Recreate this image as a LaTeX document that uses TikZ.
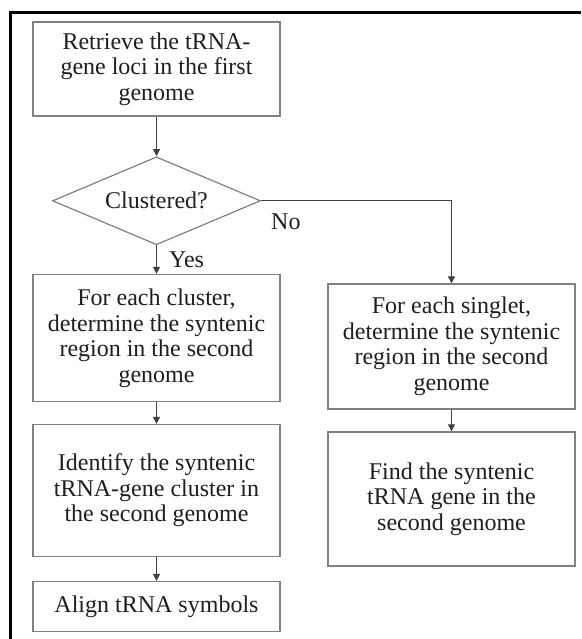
\documentclass[tikz,border=0pt]{standalone}
\usepackage{fontspec}
\setmainfont{Liberation Serif}
\usetikzlibrary{arrows.meta,positioning,shapes.geometric}
\definecolor{boxgray}{HTML}{808080}
\definecolor{arrowgray}{HTML}{404040}
\definecolor{inkgray}{HTML}{1E1E1E}

\begin{document}
\begin{tikzpicture}[x=1pt, y=1pt, node distance=22pt,
font=\fontsize{24}{25.5}\selectfont, text=inkgray,
box/.style={draw=boxgray, line width=1.4pt, minimum width=247pt, align=center, inner sep=2pt},
decision/.style={diamond, aspect=2.36, draw=boxgray, line width=1.2pt, minimum width=208pt, minimum height=88pt, inner sep=0pt},
arrow/.style={color=arrowgray, line width=1.3pt, -{Triangle[width=7pt,length=7pt]}},
tag/.style={inner sep=0pt, text=inkgray}]
\useasboundingbox (0,0) rectangle (581,-639);
\draw [line width=3pt] (581,-12.5) -- (10.5,-12.5) -- (10.5,-639);

\node [box, minimum height=94pt] (retrieve) at (156.5,-69) {Retrieve the tRNA-\\gene loci in the first\\genome};
\node [decision] (clustered) [below=39.5pt of retrieve] {Clustered?};
\node [box, minimum height=127pt] (cluster) [below=28.5pt of clustered] {For each cluster,\\determine the syntenic\\region in the second\\genome};
\node [box, minimum height=132pt] (identify) [below=21.6pt of cluster] {Identify the syntenic\\tRNA-gene cluster in\\the second genome};
\node [box, minimum height=50pt] (align) [below=23.6pt of identify] {Align tRNA symbols};
\node [box, minimum height=125pt] (singlet) at (451.5,-346.5) {For each singlet,\\determine the syntenic\\region in the second\\genome};
\node [box, minimum height=134pt] (find) [below=21.6pt of singlet] {Find the syntenic\\tRNA gene in the\\second genome};

\path [arrow]
(retrieve) edge (clustered)
(clustered) edge node [tag, right=12pt] {Yes} (cluster)
(cluster) edge (identify)
(identify) edge (align)
(singlet) edge (find);
\draw [arrow] (clustered.east) -| node [tag, pos=0.065, below=12pt] {No} (singlet.north);
\end{tikzpicture}
\end{document}
